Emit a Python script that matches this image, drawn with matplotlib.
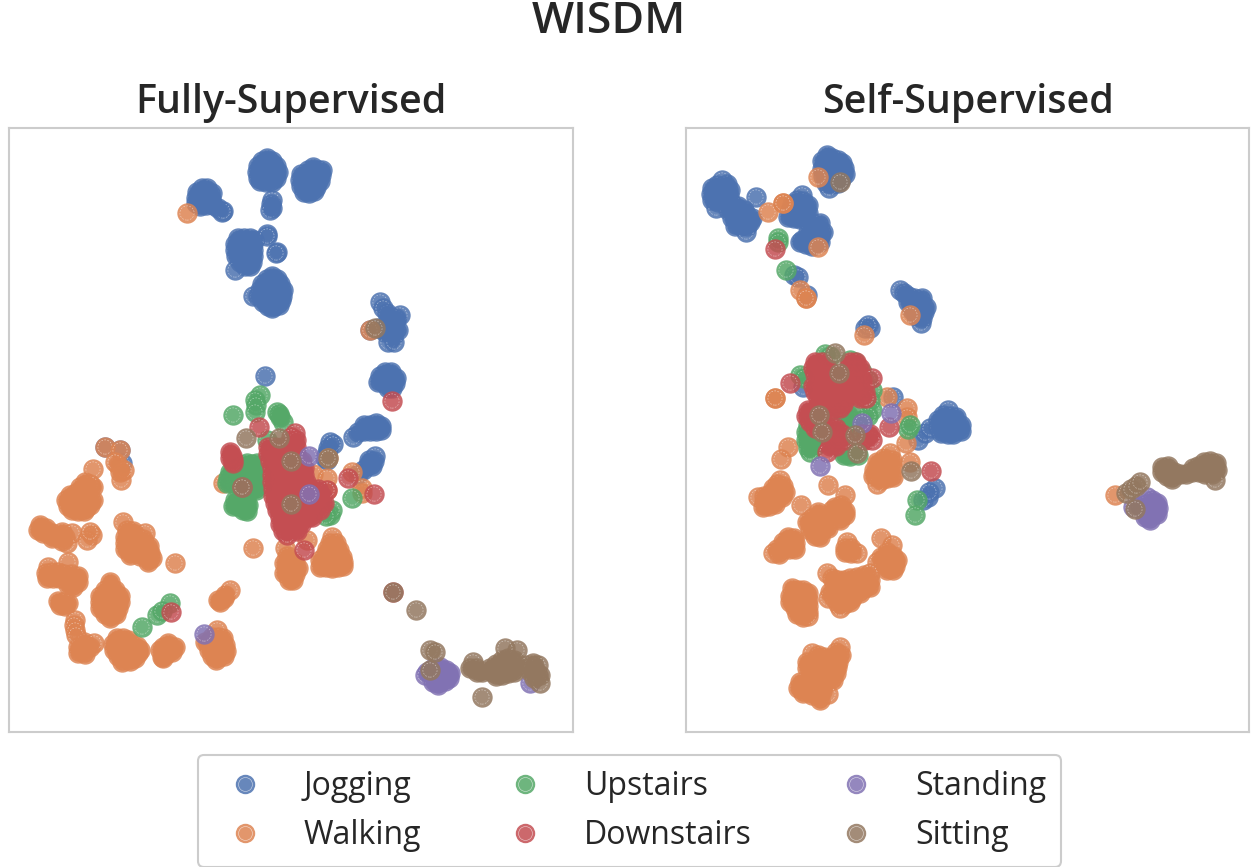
import matplotlib
matplotlib.use("Agg")
import matplotlib.pyplot as plt
import numpy as np
from matplotlib.legend_handler import HandlerTuple
from matplotlib.lines import Line2D

labels = ["Jogging", "Walking", "Upstairs", "Downstairs", "Standing", "Sitting"]
colors = ["#4C72B0", "#DD8452", "#55A868", "#C44E52", "#8172B3", "#937860"]

# t-SNE points, the embedding has no scale so the unit is arbitrary
fs_jogging = [(197,192),(202,188),(207,188),(212,193),(196,198),(201,195),(206,194),(211,199),(196,203),(201,201),(206,200),(200,206),(206,205),(213,205),(218,208),(222,212),(223,211),
    (267,158),(262,161),(272,161),(258,166),(264,166),(270,166),(276,166),(257,172),(263,172),(269,172),(275,172),(278,172),(258,178),(264,178),(270,178),(276,178),(260,181),(266,182),(272,182),(262,176),(268,162),
    (272,200),(271,204),(272,208),(270,210),
    (313,167),(308,170),(318,170),(322,170),(301,174),(306,175),(311,175),(316,175),(321,175),(300,180),(305,181),(310,181),(315,181),(320,181),(301,186),(306,187),(311,187),(316,187),(304,192),(309,193),(314,191),
    (238,238),(244,238),(250,238),(254,240),(235,244),(241,244),(247,244),(253,244),(235,250),(241,250),(247,250),(253,250),(236,256),(242,256),(248,256),(253,256),(240,262),(246,262),(252,262),(245,266),(235,270),(250,266),
    (267,234),(267,236),(277,252),(276,253),
    (272,276),(267,279),(277,279),(262,284),(268,284),(274,284),(280,284),(260,290),(266,290),(272,290),(278,290),(283,290),(253,296),(258,296),(264,296),(270,296),(276,296),(282,296),(263,302),(269,302),(275,302),(281,300),(268,306),(274,306),(279,305),(272,308),
    (380,302),(383,308),(387,313),(390,317),(396,320),(400,315),(388,322),(394,326),(398,330),(390,330),(385,332),(393,336),(388,342),(394,342),(370,330),(378,328),(396,318),
    (385,372),(391,372),(380,376),(386,377),(392,377),(396,378),(378,382),(384,383),(390,383),(395,383),(388,388),(392,388),
    (370,425),(376,423),(364,425),(358,432),(364,431),(370,431),(376,431),(353,437),(381,426),(381,430),
    (375,456),(374,461),(369,460),(368,465),(363,470),(358,474),(372,466),
    (330,442),(328,448),(327,453),(325,458),(333,444),(327,460),
    (265,376),(105,447),(120,450),(122,463)]
fs_walking = [(105,447),(120,450),(118,465),(121,480),(120,472),(115,462),(124,470),(93,469),(85,482),(93,487),(90,484),
    (80,487),(70,495),(76,493),(82,493),(88,495),(93,500),(66,500),(72,500),(78,499),(84,500),(90,505),(68,506),(74,506),(80,506),(86,508),(72,510),(78,511),(84,511),
    (40,525),(38,530),(43,533),(48,533),(46,528),(52,538),(52,533),(58,537),(65,537),(62,532),(72,533),(67,543),(62,541),(92,535),(87,540),(90,532),
    (123,522),(127,530),(133,531),(145,533),(125,537),(131,537),(137,537),(143,539),(125,543),(131,543),(137,544),(143,545),(149,546),(125,549),(131,550),(137,551),(143,551),(150,553),(130,555),(148,558),(140,556),(148,562),(152,558),
    (175,563),
    (48,567),(68,562),(47,578),(46,573),(52,572),(58,572),(64,574),(71,574),(53,578),(59,578),(65,579),(71,580),(78,576),(78,582),(73,587),(68,585),
    (58,601),(63,602),(68,603),(60,605),(65,606),(75,620),(74,625),(75,630),(76,635),(83,647),(78,647),(84,642),(78,653),(85,654),(90,647),(94,643),
    (110,582),(105,590),(110,590),(115,590),(100,596),(105,596),(110,596),(115,596),(120,596),(100,602),(105,602),(110,602),(115,602),(120,602),(100,608),(106,608),(112,608),(118,608),(105,614),(111,614),(116,614),(110,618),
    (117,638),(123,638),(128,640),(113,644),(119,644),(125,644),(131,644),(137,646),(140,650),(114,650),(120,650),(126,650),(132,650),(138,653),(118,656),(124,656),(130,656),(135,658),(122,662),(130,661),
    (168,643),(175,647),(162,657),(163,647),(168,649),(172,652),(160,650),(166,654),(163,658),
    (225,595),(230,590),(220,602),(218,600),(224,598),
    (217,630),(212,637),(218,637),(223,638),(205,642),(208,643),(214,644),(220,644),(225,645),(209,650),(215,650),(221,650),(226,651),(212,656),(218,657),(224,656),(216,660),
    (253,548),(332,537),(330,543),(336,543),(327,549),(333,549),(339,550),(325,555),(331,555),(337,556),(342,557),(320,560),(326,561),(332,561),(338,562),(343,562),(320,567),(326,567),(332,568),(338,567),(343,566),
    (285,548),(287,556),(290,562),(284,563),(295,563),(287,568),(293,569),(298,568),(284,573),(290,574),(295,574),(289,580),(293,580),
    (313,474),(327,478),(352,472),(362,493),(362,488),(223,483),(307,540),(327,490),(328,458),(187,213),(370,330)]
fs_upstairs = [(260,395),(255,400),(256,405),(255,412),(233,415),(277,412),(283,422),(280,417),(279,414),
    (237,468),(242,465),(247,463),(252,464),(257,463),(230,472),(236,472),(242,472),(248,472),(254,472),(260,472),(228,478),(234,478),(240,478),(246,478),(252,478),(258,478),(264,478),(227,483),(234,484),(240,484),(246,484),(252,485),(258,485),(263,484),(256,490),(250,490),
    (235,500),(240,500),(246,501),(233,506),(238,506),(244,507),(248,505),(243,510),(247,511),
    (330,515),(332,510),(326,516),(267,440),(352,498),
    (170,603),(157,615),(162,611),(142,627)]
fs_downstairs = [(230,452),(232,456),(233,460),(233,463),(230,458),(259,427),(295,433),(291,437),(296,440),
    (268,447),(275,447),(282,447),(289,447),(296,447),(268,454),(275,454),(282,454),(289,454),(296,454),(270,461),(277,461),(284,461),(291,461),(298,461),(302,461),
    (272,468),(279,468),(286,468),(293,468),(298,468),(304,468),(272,475),(279,475),(286,475),(293,475),(298,475),(304,475),(272,482),(279,482),(286,482),(293,482),(300,482),(306,482),
    (273,489),(280,489),(287,489),(294,489),(301,489),(312,489),(318,489),(273,496),(280,496),(287,496),(294,496),(301,496),(308,496),(315,496),(322,496),
    (275,503),(282,503),(289,503),(296,503),(303,503),(310,503),(317,503),(324,503),(277,510),(284,510),(291,510),(298,510),(305,510),(312,510),(320,510),
    (280,517),(287,517),(294,517),(301,517),(308,517),(312,517),(280,524),(287,524),(294,524),(301,524),(283,531),(290,531),(297,531),(287,535),
    (242,487),(304,550),(348,478),(374,494),(327,490),(171,612),(392,401),(393,592)]
fs_standing = [(309,456),(309,494),(204,634),
    (427,672),(433,668),(440,667),(446,670),(450,673),(425,675),(431,675),(437,675),(443,676),(449,678),(433,682),(439,682),(445,681),(438,685),(530,683)]
fs_sitting = [(246,438),(291,461),(291,504),(242,487),(328,458),(393,592),(416,610),(430,650),(435,652),(430,670),(482,697),(375,328),(279,438),
    (473,662),(470,668),(476,668),(482,672),(477,672),(490,668),(496,664),(502,660),(508,658),(514,660),(492,672),(498,670),(504,666),(510,666),(516,666),(496,676),(502,675),(508,673),(514,672),(517,650),(505,648),
    (527,665),(533,663),(538,665),(530,671),(536,671),(540,675),(534,678),(540,683)]

ss_jogging = [(827,155),(832,158),(838,160),(842,163),(822,161),(827,163),(833,164),(838,167),(844,168),(822,169),(827,170),(833,171),(839,173),(845,174),(823,176),(829,177),(835,178),(841,179),(826,183),(832,184),(838,183),(829,188),
    (722,180),(727,184),(717,185),(712,188),(718,190),(724,190),(730,190),(711,194),(717,196),(723,196),(729,196),(712,200),(718,202),(724,202),(716,208),
    (732,204),(738,206),(744,210),(728,210),(734,212),(740,214),(746,214),(752,218),(732,218),(738,220),(744,220),(750,222),(735,226),(741,226),(747,226),(746,232),(756,197),
    (802,195),(797,200),(803,201),(808,205),(792,204),(798,206),(804,207),(790,210),(796,212),(802,213),(808,213),(788,217),(794,218),(800,219),(806,219),
    (820,223),(812,226),(818,229),(823,232),(808,232),(814,234),(820,236),(802,240),(808,240),(814,242),(820,242),(806,244),(812,246),(800,242),
    (794,275),(798,277),(807,295),(870,328),(865,328),(868,325),
    (900,290),(904,293),(908,296),(914,298),(922,298),(908,302),(914,304),(920,304),(926,307),(912,310),(918,310),(924,312),(916,316),(922,318),(921,323),
    (803,387),(893,397),(918,440),(925,433),(930,428),(948,410),(943,415),(950,416),(956,417),(938,420),(944,421),(950,422),(956,423),(961,425),(938,427),(944,428),(950,428),(956,429),(961,431),(941,433),(948,434),(953,434),
    (928,497),(935,488),(923,500),(929,492)]
ss_walking = [(818,177),(768,212),(783,203),(783,203),(818,247),(800,290),(806,298),(806,298),(910,315),(864,335),
    (775,398),(775,398),(788,447),(781,459),(828,485),(887,397),(907,408),(907,417),(906,443),(910,462),
    (877,462),(884,458),(890,453),(892,460),(886,464),(880,468),(874,470),(892,468),(886,472),(880,474),(873,476),(893,477),(887,478),(881,480),(877,484),
    (780,480),(777,484),(783,486),(773,488),(779,491),(785,492),(758,497),(764,496),(770,494),(764,502),(770,500),(776,498),(782,497),(763,507),(769,506),(775,504),
    (801,505),(845,495),(835,507),(841,505),(845,511),(839,512),(833,514),(845,515),(840,520),(832,510),
    (818,512),(812,518),(818,518),(824,518),(807,522),(813,524),(819,524),(825,524),(810,530),(816,530),(822,530),(828,528),(815,536),(820,537),
    (788,537),(794,538),(783,542),(789,543),(795,543),(777,549),(783,548),(789,549),(795,549),(773,553),(779,554),
    (847,542),(845,548),(851,548),(845,552),(851,553),(857,553),(881,538),(892,545),(887,552),(881,557),(887,558),(893,556),(897,560),(877,562),(883,564),(889,564),(895,566),(887,570),(893,570),
    (827,573),(832,578),(838,580),(844,580),(850,578),(857,577),(864,575),(870,573),(870,580),(864,582),(858,584),(852,585),(846,586),(840,586),(834,586),(870,587),(864,588),(860,593),(854,592),(848,592),(842,592),(836,592),(830,592),(828,598),(834,598),(840,598),(846,598),(852,598),(838,604),(844,604),(850,602),(840,608),
    (792,588),(798,590),(803,590),(808,593),(790,596),(796,596),(802,596),(808,600),(790,602),(796,602),(802,602),(808,606),(795,608),(801,608),(808,612),(797,614),(803,617),(808,616),
    (840,647),(836,652),(841,655),(812,653),(818,655),(824,657),(830,659),(838,662),(807,662),(813,662),(819,663),(825,664),(831,665),(837,667),(807,668),(813,669),(819,670),(825,671),(831,672),(836,673),(810,676),(816,677),(822,678),(828,678),(833,680),(800,682),(806,683),(812,684),(818,685),(824,685),(798,688),(804,689),(810,690),(816,691),(822,691),(828,694),(803,693),(812,695),(820,700),
    (1115,495)]
ss_upstairs = [(778,238),(778,242),(786,270),(800,375),(804,378),(825,354),(830,356),(850,360),(855,362),(862,372),(868,380),(872,390),(870,400),(872,410),(868,416),(862,420),(855,412),(848,415),(842,410),(836,414),(850,424),(858,428),(845,430),(838,430),(830,424),
    (808,425),(806,432),(812,436),(818,440),(806,440),(808,448),(815,446),(822,442),(810,452),(842,446),(848,452),(854,448),(850,456),(858,455),(844,455),(862,440),
    (908,429),(910,425),(917,500),(915,515)]
ss_downstairs = [(775,249),(790,383),(815,362),(822,362),(850,362),(856,362),(813,368),(820,368),(827,368),(848,368),(855,368),(860,368),(815,374),(822,374),(829,374),(836,374),(846,374),(852,374),(859,374),
    (820,380),(827,380),(834,380),(841,380),(848,380),(855,380),(862,380),(813,386),(820,386),(827,386),(834,386),(841,386),(848,386),(855,386),(862,386),(815,392),(822,392),(829,392),(836,392),(843,392),(850,392),(857,392),(865,392),
    (818,398),(825,398),(832,398),(839,398),(846,398),(860,398),(866,398),(822,404),(829,404),(836,404),(843,404),(808,410),(815,410),(825,410),(832,410),(840,408),
    (806,416),(812,416),(818,416),(810,422),(816,422),(822,422),(815,428),(822,428),(829,428),(836,428),(828,434),(835,434),(842,434),(862,434),(870,434),(832,440),(838,440),(845,440),(865,440),(872,440),(830,446),(836,446),(827,452),
    (889,427),(872,378),(931,471)]
ss_standing = [(862,423),(891,413),(820,466),(1147,497),(1152,500),(1157,503),(1133,507),(1140,506),(1146,504),(1152,507),(1158,508),(1145,511),(1151,513),(1157,514),(1145,517),(1150,520)]
ss_sitting = [(835,353),(839,373),(819,415),(822,432),(855,435),(857,453),(911,471),(840,182),
    (1126,493),(1131,489),(1136,486),(1140,482),(1135,509),
    (1162,467),(1168,466),(1162,472),(1168,472),(1174,472),(1172,479),(1167,476),(1180,474),(1186,474),(1192,472),(1198,466),(1204,462),(1210,461),(1216,463),(1193,468),(1199,472),(1205,468),(1211,468),(1217,470),(1205,474),(1212,474),(1215,480)]

fully = [fs_jogging, fs_walking, fs_upstairs, fs_downstairs, fs_standing, fs_sitting]
selfs = [ss_jogging, ss_walking, ss_upstairs, ss_downstairs, ss_standing, ss_sitting]

plt.rcParams["font.family"] = ["Open Sans", "Noto Sans", "DejaVu Sans"]
W, H = 1260, 867
fig = plt.figure(figsize=(W / 100, H / 100), dpi=100)
text_col = "#262626"


def panel(left, right, series, title):
    ax = fig.add_axes([left / W, 1 - 732 / H, (right - left) / W, (732 - 128) / H])
    for pts, c in zip(series, colors):
        pts = np.array(pts, dtype=float)
        for x, y in pts:  # one by one, so a later disc paints over the last ring
            ax.scatter(x, y, s=215, color=c, alpha=0.85, linewidths=0)
            ax.scatter(x, y, s=105, facecolors="none", edgecolors="white",
                       linewidths=0.4, linestyle=(0, (3, 2.5)), alpha=0.6)
        # points deep inside a clump: rings do not show through there
        dist = np.hypot(pts[:, 0, None] - pts[:, 0], pts[:, 1, None] - pts[:, 1])
        inner = pts[(dist < 10).sum(axis=1) >= 4]
        ax.scatter(inner[:, 0], inner[:, 1], s=140, color=c, alpha=0.95, linewidths=0)
    ax.set_xlim(left, right)
    ax.set_ylim(732, 128)
    ax.set_xticks([])
    ax.set_yticks([])
    for s in ax.spines.values():
        s.set_color("#cccccc")
        s.set_linewidth(1.5)
    ax.set_title(title, fontsize=28.4, fontweight=600, color=text_col, pad=10.5)
    return ax


panel(9, 573, fully, "Fully-Supervised")
panel(686, 1249, selfs, "Self-Supervised")
fig.text(609 / W, 1 - 33 / H, "WISDM", ha="center", va="baseline", fontsize=32, fontweight=600, color=text_col)

handles = []
for c in colors:
    disc = Line2D([], [], ls="none", marker="o", ms=14, color=c, alpha=0.85, mew=0)
    ring = Line2D([], [], ls="none", marker="o", ms=10, mfc="none", mec="white", mew=0.4, alpha=0.7)
    handles.append((disc, ring))

leg = fig.legend(handles, labels, ncol=3, loc="center", bbox_to_anchor=(629.5 / W, 1 - 811 / H),
                 handler_map={tuple: HandlerTuple(ndivide=1, pad=0)}, fontsize=23, frameon=True,
                 edgecolor="#cccccc", framealpha=1, handlelength=2, handletextpad=0.85,
                 columnspacing=2.25, labelspacing=0.5, borderpad=0.47, labelcolor=text_col)
leg.get_frame().set_linewidth(1.5)
for t in leg.get_texts():
    t.set_fontweight(500)

fig.savefig("out.png", dpi=100)
